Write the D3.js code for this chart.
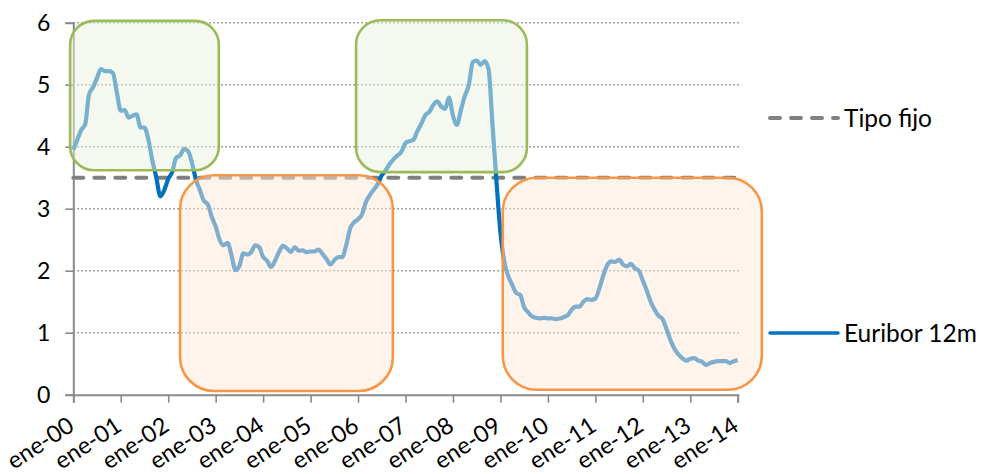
<!DOCTYPE html>
<html>
<head>
<meta charset="utf-8">
<script src="https://cdn.jsdelivr.net/npm/d3@7"></script>
<style>
  html, body { margin: 0; padding: 0; background: #fff; }
  svg { display: block; font-family: Lato, "Noto Sans", sans-serif; }
</style>
</head>
<body>
<svg id="chart" width="982" height="474"></svg>
<script>
// Euribor 12 meses, media mensual, ene-2000 .. ene-2014
const euribor2000 = [3.95, 4.11, 4.27, 4.36, 4.85, 4.96, 5.11, 5.25, 5.22, 5.22, 5.19, 4.88];
const euribor2001 = [4.58, 4.59, 4.47, 4.50, 4.52, 4.31, 4.31, 4.11, 3.77, 3.50, 3.20, 3.30];
const euribor2002 = [3.48, 3.59, 3.82, 3.86, 3.96, 3.93, 3.74, 3.47, 3.30, 3.13, 3.07, 2.87];
const euribor2003 = [2.71, 2.50, 2.41, 2.45, 2.25, 2.01, 2.08, 2.28, 2.26, 2.30, 2.41, 2.38];
const euribor2004 = [2.22, 2.16, 2.06, 2.16, 2.30, 2.40, 2.36, 2.30, 2.38, 2.32, 2.33, 2.30];
const euribor2005 = [2.31, 2.31, 2.34, 2.27, 2.19, 2.10, 2.17, 2.22, 2.22, 2.41, 2.68, 2.78];
const euribor2006 = [2.83, 2.91, 3.11, 3.22, 3.31, 3.40, 3.54, 3.62, 3.72, 3.80, 3.86, 3.92];
const euribor2007 = [4.06, 4.09, 4.11, 4.25, 4.37, 4.51, 4.56, 4.67, 4.73, 4.65, 4.61, 4.79];
const euribor2008 = [4.50, 4.35, 4.59, 4.82, 4.99, 5.36, 5.39, 5.32, 5.38, 5.25, 4.35, 3.45];
const euribor2009 = [2.62, 2.14, 1.91, 1.77, 1.64, 1.61, 1.41, 1.33, 1.26, 1.24, 1.23, 1.24];
const euribor2010 = [1.23, 1.23, 1.22, 1.23, 1.25, 1.28, 1.37, 1.42, 1.42, 1.50, 1.54, 1.53];
const euribor2011 = [1.55, 1.71, 1.92, 2.09, 2.15, 2.14, 2.18, 2.10, 2.07, 2.11, 2.04, 2.00];
const euribor2012 = [1.84, 1.68, 1.50, 1.37, 1.27, 1.22, 1.06, 0.88, 0.74, 0.65, 0.59, 0.55];
const euribor2013 = [0.58, 0.59, 0.55, 0.53, 0.48, 0.51, 0.53, 0.54, 0.54, 0.54, 0.51, 0.54];
const euribor2014 = [0.56];

const euribor = [].concat(euribor2000, euribor2001, euribor2002, euribor2003, euribor2004,
  euribor2005, euribor2006, euribor2007, euribor2008, euribor2009, euribor2010,
  euribor2011, euribor2012, euribor2013, euribor2014);

const tipoFijo = 3.5;

const yearLabels = ["ene-00", "ene-01", "ene-02", "ene-03", "ene-04", "ene-05", "ene-06",
  "ene-07", "ene-08", "ene-09", "ene-10", "ene-11", "ene-12", "ene-13", "ene-14"];
const yTicks = [0, 1, 2, 3, 4, 5, 6];

// Highlighted periods: first month, last month, low value, high value, kind
const periodStart = [-0.8, 27, 71.5, 108.6];
const periodEnd   = [36.8, 80.8, 114.7, 174.1];
const periodLow   = [3.62, 0.06, 3.59, 0.08];
const periodHigh  = [6.03, 3.54, 6.04, 3.50];
const periodKind  = ["alto", "bajo", "alto", "bajo"];

const svg = d3.select("#chart");

const x = d3.scaleLinear().domain([0, euribor.length - 1]).range([73.3, 737.7]);
const y = d3.scaleLinear().domain([0, 6]).range([394.7, 22.7]);

const axisColor = "#8a8a8a";
const blue = "#0070C0";
const grey = "#808080";

// horizontal dotted gridlines
svg.append("g")
  .selectAll("line")
  .data(yTicks.filter(d => d > 0))
  .join("line")
  .attr("x1", x(0)).attr("x2", x(euribor.length - 1) + 2)
  .attr("y1", d => y(d)).attr("y2", d => y(d))
  .attr("stroke", "#8c8c8c")
  .attr("stroke-width", 1.6)
  .attr("stroke-dasharray", "1.6,2.4");

// y axis
const yAxis = svg.append("g")
  .attr("transform", `translate(${x(0)},0)`)
  .call(d3.axisLeft(y).tickValues(yTicks).tickSize(8).tickPadding(15).tickFormat(d3.format("d")));
yAxis.select(".domain").attr("stroke", axisColor).attr("stroke-width", 2);
yAxis.selectAll(".tick line").attr("stroke", axisColor).attr("stroke-width", 1.6);
yAxis.selectAll(".tick text")
  .attr("fill", "#000").attr("font-size", 23).attr("font-family", "Lato, sans-serif");

// x axis
const xTickValues = yearLabels.map((_, i) => i * 12);
const xAxis = svg.append("g")
  .attr("transform", `translate(0,${y(0)})`)
  .call(d3.axisBottom(x).tickValues(xTickValues).tickSize(8).tickFormat((d, i) => yearLabels[i]));
xAxis.select(".domain").attr("stroke", axisColor).attr("stroke-width", 2);
xAxis.selectAll(".tick line").attr("stroke", axisColor).attr("stroke-width", 1.6);
xAxis.selectAll(".tick text")
  .attr("fill", "#000")
  .attr("font-size", 23.5)
  .attr("font-family", "Lato, sans-serif")
  .attr("text-anchor", "end")
  .attr("dy", 0)
  .attr("y", 0)
  .attr("transform", "translate(2,35) rotate(-33)");

// fixed rate
svg.append("line")
  .attr("x1", x(0)).attr("x2", x(euribor.length - 1))
  .attr("y1", y(tipoFijo)).attr("y2", y(tipoFijo))
  .attr("stroke", grey)
  .attr("stroke-width", 4)
  .attr("stroke-linecap", "round")
  .attr("stroke-dasharray", "10,11");

// Euribor line
const line = d3.line()
  .x((d, i) => x(i))
  .y(d => y(d))
  .curve(d3.curveMonotoneX);

svg.append("path")
  .datum(euribor)
  .attr("d", line)
  .attr("fill", "none")
  .attr("stroke", blue)
  .attr("stroke-width", 4.2)
  .attr("stroke-linejoin", "round");

// highlighted periods on top
const boxStyle = {
  alto: { stroke: "#9BBB59", fill: "#EBF1DE" },
  bajo: { stroke: "#F79646", fill: "#FDE9D9" }
};
svg.append("g")
  .selectAll("rect")
  .data(periodKind.map((k, i) => ({ k, i })))
  .join("rect")
  .each(function (d) {
    const x0 = x(periodStart[d.i]), x1 = x(periodEnd[d.i]);
    const y0 = y(periodHigh[d.i]), y1 = y(periodLow[d.i]);
    const w = x1 - x0, h = y1 - y0;
    const r = Math.min(w, h) * 0.16;
    d3.select(this)
      .attr("x", x0).attr("y", y0)
      .attr("width", w).attr("height", h)
      .attr("rx", r).attr("ry", r)
      .attr("fill", boxStyle[d.k].fill)
      .attr("fill-opacity", 0.5)
      .attr("stroke", boxStyle[d.k].stroke)
      .attr("stroke-width", 2.6);
  });

// legend
const legend = [
  { name: "Tipo fijo", y: 118, color: grey, dash: "10,11", cap: "round" },
  { name: "Euribor 12m", y: 333, color: blue, dash: null, cap: "round" }
];
const lg = svg.append("g").selectAll("g").data(legend).join("g");
lg.append("line")
  .attr("x1", 770).attr("x2", 838)
  .attr("y1", d => d.y).attr("y2", d => d.y)
  .attr("stroke", d => d.color)
  .attr("stroke-width", d => d.dash ? 4 : 3.5)
  .attr("stroke-linecap", d => d.cap)
  .attr("stroke-dasharray", d => d.dash);
lg.append("text")
  .attr("x", 844)
  .attr("y", d => d.y)
  .attr("dy", "0.35em")
  .attr("font-size", 24.5)
  .attr("fill", "#000")
  .text(d => d.name);
</script>
</body>
</html>
